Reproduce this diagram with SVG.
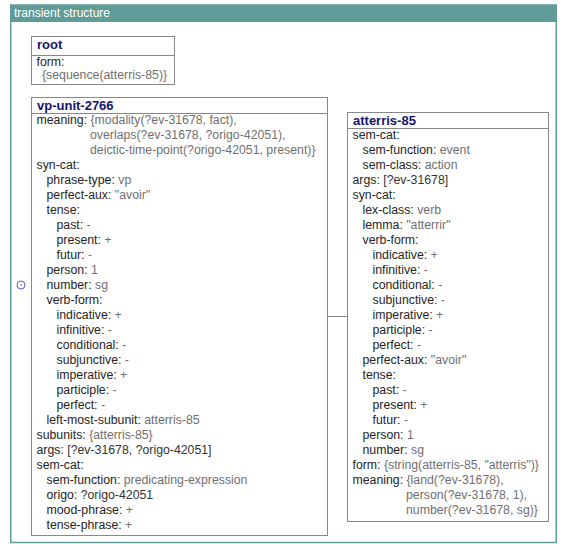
<svg xmlns="http://www.w3.org/2000/svg" width="567" height="550" viewBox="0 0 567 550">
<style>
text{font-family:"Liberation Sans",Arial,sans-serif;font-size:12.3px;fill:#252525}
.t{font-weight:bold;font-size:13px;fill:#14146e}
.v{fill:#707070}
.d{fill:#333}
.box{fill:#fff;stroke:#888;stroke-width:1}
.hd{font-size:12px;fill:#fff}
</style>
<rect x="0" y="0" width="567" height="550" fill="#fff"/>
<g id="frame">
<rect x="10.75" y="5" width="545.5" height="537.5" fill="#fff" stroke="#609b97" stroke-width="1.5"/>
<rect x="10" y="5" width="547" height="17" fill="#609b97"/>
<text class="hd" x="14" y="17">transient structure</text>
<circle cx="21" cy="285" r="4" fill="none" stroke="#5d5dbf" stroke-width="1"/>
<circle cx="21" cy="285" r="0.8" fill="#5d5dbf"/>
</g>
<g id="connectors">
<line x1="327.5" y1="316.5" x2="347.5" y2="316.5" stroke="#888" stroke-width="1"/>
</g>
<g id="root">
<rect class="box" x="31.5" y="36.5" width="143" height="48"/>
<line x1="31.5" y1="55.5" x2="174.5" y2="55.5" stroke="#888"/>
<text class="t" x="37" y="48.5">root</text>
<text x="36.5" y="65.5">form:</text>
<text class="v" x="42" y="78.5">{sequence(atterris-85)}</text>
</g>
<g id="vp-unit-2766">
<rect class="box" x="31.5" y="97.5" width="296" height="438"/>
<line x1="31.5" y1="113.5" x2="327.5" y2="113.5" stroke="#888"/>
<text class="t" x="37" y="110">vp-unit-2766</text>
<text x="36.5" y="124">meaning: <tspan class="v">{modality(?ev-31678, fact),</tspan></text>
<text class="v" x="90" y="139">overlaps(?ev-31678, ?origo-42051),</text>
<text class="v" x="90" y="154">deictic-time-point(?origo-42051, present)}</text>
<text x="36.5" y="169">syn-cat:</text>
<text x="46.5" y="184">phrase-type: <tspan class="v">vp</tspan></text>
<text x="46.5" y="199">perfect-aux: <tspan class="v">"avoir"</tspan></text>
<text x="46.5" y="214">tense:</text>
<text x="56.5" y="229">past: <tspan class="v">-</tspan></text>
<text x="56.5" y="244">present: <tspan class="v">+</tspan></text>
<text x="56.5" y="259">futur: <tspan class="v">-</tspan></text>
<text x="46.5" y="274">person: <tspan class="v">1</tspan></text>
<text x="46.5" y="289">number: <tspan class="v">sg</tspan></text>
<text x="46.5" y="304">verb-form:</text>
<text x="56.5" y="319">indicative: <tspan class="v">+</tspan></text>
<text x="56.5" y="334">infinitive: <tspan class="v">-</tspan></text>
<text x="56.5" y="349">conditional: <tspan class="v">-</tspan></text>
<text x="56.5" y="364">subjunctive: <tspan class="v">-</tspan></text>
<text x="56.5" y="379">imperative: <tspan class="v">+</tspan></text>
<text x="56.5" y="394">participle: <tspan class="v">-</tspan></text>
<text x="56.5" y="409">perfect: <tspan class="v">-</tspan></text>
<text x="46.5" y="424">left-most-subunit: <tspan class="v">atterris-85</tspan></text>
<text x="36.5" y="439">subunits: <tspan class="v">{atterris-85}</tspan></text>
<text x="36.5" y="454">args: <tspan class="d">[?ev-31678, ?origo-42051]</tspan></text>
<text x="36.5" y="469">sem-cat:</text>
<text x="46.5" y="484">sem-function: <tspan class="v">predicating-expression</tspan></text>
<text x="46.5" y="499">origo: <tspan class="d">?origo-42051</tspan></text>
<text x="46.5" y="514">mood-phrase: <tspan class="v">+</tspan></text>
<text x="46.5" y="529">tense-phrase: <tspan class="v">+</tspan></text>
</g>
<g id="atterris-85">
<rect class="box" x="347.5" y="112.5" width="201" height="409"/>
<line x1="347.5" y1="128.5" x2="548.5" y2="128.5" stroke="#888"/>
<text class="t" x="353" y="125">atterris-85</text>
<text x="352.5" y="139">sem-cat:</text>
<text x="362.5" y="154">sem-function: <tspan class="v">event</tspan></text>
<text x="362.5" y="169">sem-class: <tspan class="v">action</tspan></text>
<text x="352.5" y="184">args: <tspan class="d">[?ev-31678]</tspan></text>
<text x="352.5" y="199">syn-cat:</text>
<text x="362.5" y="214">lex-class: <tspan class="v">verb</tspan></text>
<text x="362.5" y="229">lemma: <tspan class="v">"atterrir"</tspan></text>
<text x="362.5" y="244">verb-form:</text>
<text x="372.5" y="259">indicative: <tspan class="v">+</tspan></text>
<text x="372.5" y="274">infinitive: <tspan class="v">-</tspan></text>
<text x="372.5" y="289">conditional: <tspan class="v">-</tspan></text>
<text x="372.5" y="304">subjunctive: <tspan class="v">-</tspan></text>
<text x="372.5" y="319">imperative: <tspan class="v">+</tspan></text>
<text x="372.5" y="334">participle: <tspan class="v">-</tspan></text>
<text x="372.5" y="349">perfect: <tspan class="v">-</tspan></text>
<text x="362.5" y="364">perfect-aux: <tspan class="v">"avoir"</tspan></text>
<text x="362.5" y="379">tense:</text>
<text x="372.5" y="394">past: <tspan class="v">-</tspan></text>
<text x="372.5" y="409">present: <tspan class="v">+</tspan></text>
<text x="372.5" y="424">futur: <tspan class="v">-</tspan></text>
<text x="362.5" y="439">person: <tspan class="v">1</tspan></text>
<text x="362.5" y="454">number: <tspan class="v">sg</tspan></text>
<text x="352.5" y="469">form: <tspan class="v">{string(atterris-85, "atterris")}</tspan></text>
<text x="352.5" y="484">meaning: <tspan class="v">{land(?ev-31678),</tspan></text>
<text class="v" x="406" y="499">person(?ev-31678, 1),</text>
<text class="v" x="406" y="514">number(?ev-31678, sg)}</text>
</g>
</svg>
